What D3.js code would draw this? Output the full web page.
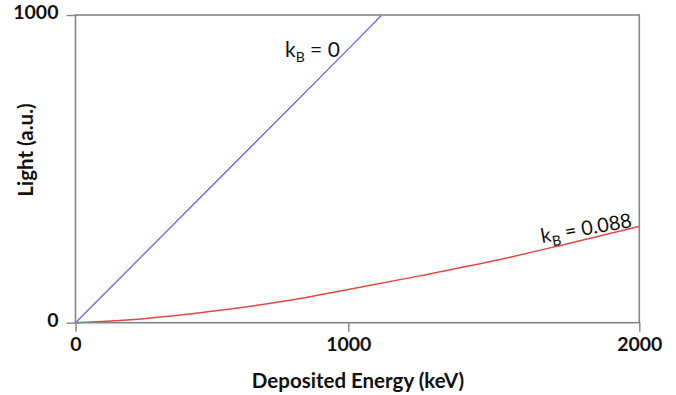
<!DOCTYPE html>
<html>
<head>
<meta charset="utf-8">
<script src="https://cdn.jsdelivr.net/npm/d3@7"></script>
<style>
  html, body { margin: 0; padding: 0; background: #fff; }
  svg text { font-family: Lato, "Open Sans", sans-serif; fill: #111; }
</style>
</head>
<body>
<svg id="chart" width="676" height="395"></svg>
<script>
// ---- data ----
const xTicks = [0, 1000, 2000];
const yTicks = [0, 1000];
const xTickLabels = ["0", "1000", "2000"];
const yTickLabels = ["0", "1000"];

// kB = 0 (straight line, reaches 1000 at ~1115 keV)
const energyKB0 = [0, 1000, 1115];
const lightKB0  = [0, 889, 1000];

// kB = 0.088 (quenched, convex)
const energyKB088 = [0, 250, 500, 750, 1000, 1250, 1500, 1750, 2000];
const lightKB088  = [0, 13, 37, 68, 108, 153, 201, 256, 313];

const xTitle = "Deposited Energy (keV)";
const yTitle = "Light (a.u.)";

// ---- drawing ----
(function () {
const svg = d3.select("#chart");
const pLeft = 75.5, pRight = 639.3, pTop = 15, pBottom = 322.7;

const x = d3.scaleLinear().domain([0, 1000, 2000]).range([pLeft, 348.3, pRight]);
const y = d3.scaleLinear().domain([0, 1000]).range([pBottom, pTop]);

const frameColor = "#858585";

// lines
const line = d3.line().x(d => x(d[0])).y(d => y(d[1]));
const line2 = d3.line().x(d => x(d[0])).y(d => y(d[1])).curve(d3.curveMonotoneX);

svg.append("path")
  .datum(energyKB088.map((e, i) => [e, lightKB088[i]]))
  .attr("d", line2)
  .attr("fill", "none")
  .attr("stroke", "#e04848")
  .attr("stroke-width", 1.5);

svg.append("path")
  .datum(energyKB0.map((e, i) => [e, lightKB0[i]]))
  .attr("d", line)
  .attr("fill", "none")
  .attr("stroke", "#7060ee")
  .attr("stroke-width", 1.3);

// frame
svg.append("rect")
  .attr("x", pLeft).attr("y", pTop)
  .attr("width", pRight - pLeft).attr("height", pBottom - pTop)
  .attr("fill", "none")
  .attr("stroke", frameColor)
  .attr("stroke-width", 1.6);

// axes
const xAxis = d3.axisBottom(x)
  .tickValues(xTicks)
  .tickFormat((d, i) => xTickLabels[i])
  .tickSize(9).tickSizeOuter(0).tickPadding(5);
const gx = svg.append("g").attr("transform", `translate(0,${pBottom})`).call(xAxis);

const yAxis = d3.axisLeft(y)
  .tickValues(yTicks)
  .tickFormat((d, i) => yTickLabels[i])
  .tickSize(9).tickSizeOuter(0).tickPadding(8);
const gy = svg.append("g").attr("transform", `translate(${pLeft},0)`).call(yAxis);

[gx, gy].forEach(g => {
  g.select(".domain").remove();
  g.selectAll(".tick line").attr("stroke", frameColor).attr("stroke-width", 1.4);
  g.selectAll(".tick text")
    .attr("font-family", "Lato, 'Open Sans', sans-serif")
    .attr("font-size", 19.5).attr("font-weight", "bold").attr("fill", "#111");
});
gy.selectAll(".tick text").attr("dy", "0.2em");

// axis titles
svg.append("text")
  .attr("x", 358).attr("y", 388)
  .attr("text-anchor", "middle")
  .attr("font-size", 20.5).attr("font-weight", "bold")
  .text(xTitle);

svg.append("text")
  .attr("transform", "translate(33,150) rotate(-90)")
  .attr("text-anchor", "middle")
  .attr("font-size", 20.5).attr("font-weight", "bold")
  .text(yTitle);

// annotations
const a1 = svg.append("text")
  .attr("x", 285).attr("y", 57)
  .attr("font-size", 21);
a1.append("tspan").text("k");
a1.append("tspan").attr("font-size", 14).attr("dy", 5).text("B");
a1.append("tspan").attr("dy", -5).text(" = 0");

const a2 = svg.append("text")
  .attr("transform", "translate(542,243) rotate(-10)")
  .attr("font-size", 20);
a2.append("tspan").text("k");
a2.append("tspan").attr("font-size", 14).attr("dy", 5).text("B");
a2.append("tspan").attr("dy", -5).text(" = 0.088");
})();
</script>
</body>
</html>
